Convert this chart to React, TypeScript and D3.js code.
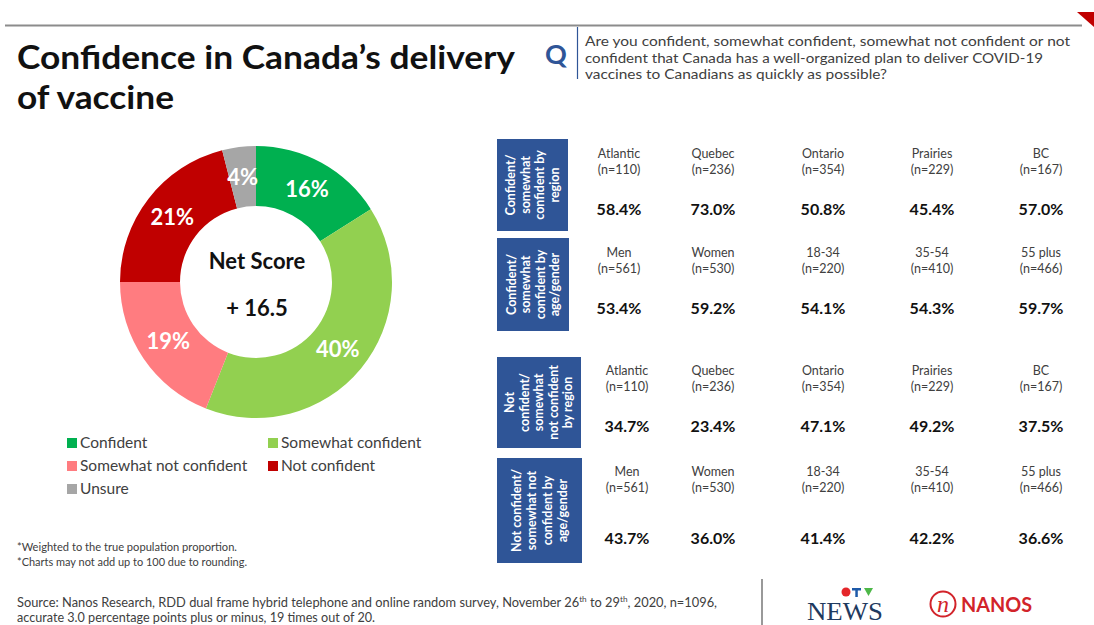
import React from "react";
import * as d3 from "d3";

const sliceLabels = ["Confident", "Somewhat confident", "Somewhat not confident", "Not confident", "Unsure"];
const sliceValues = [16, 40, 19, 21, 4];
const sliceColors = ["#00B050", "#92D050", "#FF7C80", "#C00000", "#A6A6A6"];
const netScore = "+ 16.5";

const regions = ["Atlantic", "Quebec", "Ontario", "Prairies", "BC"];
const regionN = ["(n=110)", "(n=236)", "(n=354)", "(n=229)", "(n=167)"];
const confRegion = [58.4, 73.0, 50.8, 45.4, 57.0];
const notConfRegion = [34.7, 23.4, 47.1, 49.2, 37.5];

const demos = ["Men", "Women", "18-34", "35-54", "55 plus"];
const demoN = ["(n=561)", "(n=530)", "(n=220)", "(n=410)", "(n=466)"];
const confDemo = [53.4, 59.2, 54.1, 54.3, 59.7];
const notConfDemo = [43.7, 36.0, 41.4, 42.2, 36.6];

const FONT = "Lato, 'Open Sans', sans-serif";
const GRAY = "#404040";
const BLUE = "#2F5597";

type Section = {
  box: [number, number, number, number];
  lines: string[];
  lineStep: number;
  names: string[];
  ns: string[];
  vals: number[];
  nameY: number;
  valY: number;
  firstX: number;
};

export default function App() {
  const cx = 256, cy = 282, rOut = 136, rIn = 76;
  const pie = d3.pie<number>().sort(null).value((d) => d);
  const arcs = pie(sliceValues);
  const arc = d3.arc<d3.PieArcDatum<number>>().innerRadius(rIn).outerRadius(rOut);

  const colX = [619, 713, 823, 932, 1041];
  const fmt = d3.format(".1f");

  const sections: Section[] = [
    { box: [497, 139, 71, 92], lines: ["Confident/", "somewhat", "confident by", "region"], lineStep: 14.5, names: regions, ns: regionN, vals: confRegion, nameY: 158, valY: 215, firstX: 619 },
    { box: [497, 238, 72, 93], lines: ["Confident/", "somewhat", "confident by", "age/gender"], lineStep: 14.5, names: demos, ns: demoN, vals: confDemo, nameY: 257, valY: 314, firstX: 619 },
    { box: [497, 357, 84, 91], lines: ["Not", "confident/", "somewhat", "not confident", "by region"], lineStep: 14.5, names: regions, ns: regionN, vals: notConfRegion, nameY: 375, valY: 432, firstX: 627 },
    { box: [497, 458, 85, 105], lines: ["Not confident/", "somewhat not", "confident by", "age/gender"], lineStep: 15.5, names: demos, ns: demoN, vals: notConfDemo, nameY: 476, valY: 544, firstX: 627 },
  ];

  const legendItems = [
    { i: 0, x: 67, y: 443 },
    { i: 1, x: 268, y: 443 },
    { i: 2, x: 67, y: 466 },
    { i: 3, x: 268, y: 466 },
    { i: 4, x: 67, y: 489 },
  ];

  return (
    <svg width={1094} height={625} style={{ position: "absolute", left: 0, top: 0, background: "#fff" }} fontFamily={FONT}>
      <rect x={0} y={0} width={1094} height={625} fill="#fff" />
      {/* top rule and corner triangle */}
      <line x1={5} y1={25.5} x2={1082} y2={25.5} stroke="#8c8c8c" strokeWidth={2} />
      <path d="M1077,12 L1094,12 L1094,27 Z" fill="#C00000" />

      {/* title */}
      <text x={17} y={69} fontSize={33} fontWeight={700} fill="#111" textLength={498} lengthAdjust="spacingAndGlyphs">Confidence in Canada’s delivery</text>
      <text x={17} y={109} fontSize={33} fontWeight={700} fill="#111" textLength={157} lengthAdjust="spacingAndGlyphs">of vaccine</text>

      {/* question */}
      <text x={545} y={64} fontSize={27} fontWeight={700} fill={BLUE}>Q</text>
      <line x1={577.5} y1={27} x2={577.5} y2={79} stroke={BLUE} strokeWidth={1.2} />
      <g fontSize={13.5} fill={GRAY}>
        <text x={585} y={46} textLength={485} lengthAdjust="spacingAndGlyphs">Are you confident, somewhat confident, somewhat not confident or not</text>
        <text x={585} y={63} textLength={458} lengthAdjust="spacingAndGlyphs">confident that Canada has a well-organized plan to deliver COVID-19</text>
        <text x={585} y={79} textLength={302} lengthAdjust="spacingAndGlyphs">vaccines to Canadians as quickly as possible?</text>
      </g>

      {/* donut */}
      <g transform={`translate(${cx},${cy})`}>
        {arcs.map((a, i) => (
          <path key={i} d={arc(a) || ""} fill={sliceColors[i]} />
        ))}
        {arcs.map((a, i) => {
          const [lx, ly] = arc.centroid(a);
          return (
            <text key={"l" + i} x={lx} y={ly} dy="0.35em" textAnchor="middle" fontSize={22} fontWeight={700} fill="#fff">
              {sliceValues[i]}%
            </text>
          );
        })}
        <text x={1} y={-21} dy="0.35em" textAnchor="middle" fontSize={22} fontWeight={700} fill="#111">Net Score</text>
        <text x={1} y={26} dy="0.35em" textAnchor="middle" fontSize={22} fontWeight={700} fill="#111">{netScore}</text>
      </g>

      {/* legend */}
      {legendItems.map((l) => (
        <g key={l.i}>
          <rect x={l.x} y={l.y - 5} width={10} height={10} fill={sliceColors[l.i]} />
          <text x={l.x + 13} y={l.y} dy="0.35em" fontSize={15.5} fill={GRAY}>{sliceLabels[l.i]}</text>
        </g>
      ))}

      {/* footnotes */}
      <g fontSize={10.5} fill={GRAY}>
        <text x={17} y={551} textLength={220} lengthAdjust="spacingAndGlyphs">*Weighted to the true population proportion.</text>
        <text x={17} y={566} textLength={230} lengthAdjust="spacingAndGlyphs">*Charts may not add up to 100 due to rounding.</text>
      </g>
      <g fontSize={12.5} fill={GRAY}>
        <text x={17} y={607} textLength={700} lengthAdjust="spacingAndGlyphs">
          Source: Nanos Research, RDD dual frame hybrid  telephone and online random survey, November 26
          <tspan fontSize={8} dy={-5}>th</tspan>
          <tspan dy={5}> to 29</tspan>
          <tspan fontSize={8} dy={-5}>th</tspan>
          <tspan dy={5}>, 2020, n=1096,</tspan>
        </text>
        <text x={17} y={622} textLength={358} lengthAdjust="spacingAndGlyphs">accurate 3.0 percentage points plus or minus, 19 times out of 20.</text>
      </g>
      <line x1={762} y1={579} x2={762} y2={625} stroke="#555" strokeWidth={1.2} />

      {/* CTV News logo */}
      <g>
        <circle cx={846} cy={592} r={4.5} fill="#E4262A" />
        <rect x={852} y={588} width={9} height={2.5} fill="#1E5AA8" />
        <rect x={855.3} y={588} width={2.5} height={9} fill="#1E5AA8" />
        <path d="M864,588 L873,588 L868.5,596 Z" fill="#4DB848" />
        <text x={845} y={620} textAnchor="middle" fontSize={26} fontFamily="'Liberation Serif', 'DejaVu Serif', serif" fill="#1F3A5F" textLength={76} lengthAdjust="spacingAndGlyphs">NEWS</text>
      </g>
      {/* Nanos logo */}
      <g>
        <circle cx={943} cy={604} r={12.5} fill="none" stroke="#D2232A" strokeWidth={2} />
        <text x={943} y={612} textAnchor="middle" fontSize={24} fontStyle="italic" fontFamily="'Liberation Serif', serif" fill="#D2232A">n</text>
        <text x={961} y={612} fontSize={21} fontWeight={700} fill="#D2232A" textLength={71} lengthAdjust="spacingAndGlyphs">NANOS</text>
      </g>

      {/* table sections */}
      {sections.map((s, si) => {
        const [bx, by, bw, bh] = s.box;
        const mx = bx + bw / 2, my = by + bh / 2;
        const n = s.lines.length;
        return (
          <g key={si}>
            <rect x={bx} y={by} width={bw} height={bh} fill={BLUE} />
            {s.lines.map((ln, li) => {
              const x = mx + (li - (n - 1) / 2) * s.lineStep;
              return (
                <text key={li} transform={`translate(${x},${my}) rotate(-90)`} textAnchor="middle" dy="0.35em" fontSize={12.5} fontWeight={700} fill="#fff">
                  {ln}
                </text>
              );
            })}
            {s.names.map((nm, ci) => {
              const x = ci === 0 ? s.firstX : colX[ci];
              return (
                <g key={ci}>
                  <text x={x} y={s.nameY} textAnchor="middle" fontSize={12.5} fill={GRAY}>{nm}</text>
                  <text x={x} y={s.nameY + 16} textAnchor="middle" fontSize={12.5} fill={GRAY}>{s.ns[ci]}</text>
                  <text x={x} y={s.valY} textAnchor="middle" fontSize={16} fontWeight={700} fill="#111">{fmt(s.vals[ci])}%</text>
                </g>
              );
            })}
          </g>
        );
      })}
    </svg>
  );
}
